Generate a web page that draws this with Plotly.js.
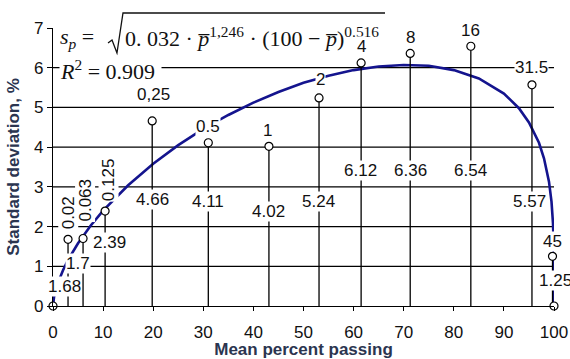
<!DOCTYPE html>
<html>
<head>
<meta charset="utf-8">
<script src="https://cdn.plot.ly/plotly-3.0.1.min.js"></script>
<style>
  html, body { margin: 0; padding: 0; background: #fff; }
  #chart { width: 570px; height: 359px; }
</style>
</head>
<body>
<div id="chart"></div>
<script>
// sieve size (mm) per point, mean percent passing, standard deviation
const sieveLabels = ['0.02', '0.063', '0.125', '0,25', '0.5', '1', '2', '4', '8', '16', '31.5', '45'];
const meanPassing = [3.0, 6.0, 10.4, 19.8, 31.0, 43.1, 53.1, 61.5, 71.3, 83.4, 95.6, 99.7];
const stdDev      = [1.68, 1.70, 2.39, 4.66, 4.11, 4.02, 5.24, 6.12, 6.36, 6.54, 5.57, 1.25];
const valueLabels = ['1.68', '1.7', '2.39', '4.66', '4.11', '4.02', '5.24', '6.12', '6.36', '6.54', '5.57', '1.25'];

// end points of the fitted curve
const endP  = [0, 100];
const endSD = [0, 0];

// fitted curve
const fitP  = [0, 0.2, 0.5, 1, 2, 3, 5, 7.5, 10, 15, 20, 25, 30, 35, 40, 45, 50, 55, 60, 65, 70, 75, 80, 85, 90, 93, 95, 97, 98, 99, 99.5, 99.8, 99.95, 100];
const fitSD = [0, 0.22, 0.38, 0.59, 0.90, 1.16, 1.58, 2.02, 2.40, 3.04, 3.58, 4.05, 4.46, 4.81, 5.12, 5.39, 5.62, 5.80, 5.94, 6.03, 6.07, 6.05, 5.94, 5.73, 5.35, 4.98, 4.62, 4.11, 3.72, 3.13, 2.63, 2.08, 1.46, 0];

const xTicks = [0, 10, 20, 30, 40, 50, 60, 70, 80, 90, 100];
const yTicks = [0, 1, 2, 3, 4, 5, 6, 7];
const gridY  = [1, 2, 3, 4, 5, 6];

// label placement (pixel shifts / heights), kept apart from the data
const sieveShift = [[0, 26], [2, 38], [3, 31], [1, 26], [0, 16], [-1, 16], [1, 18], [0, 16], [0, 16], [0, 16], [0, 17], [0, 15]];
const valueLabelY = [0.48, 1.08, 1.61, 2.69, 2.62, 2.37, 2.64, 3.42, 3.42, 3.42, 2.64, 0.65];
const valueShiftX = [-4, -5, 4, 0, 0, 0, -1, -1, 0, 0, -2, 3];

const SANS = '"Liberation Sans", Arial, sans-serif';
const SERIF = '"Liberation Serif", "Times New Roman", serif';
const lblFont = { family: SANS, size: 17, color: '#111' };
const titleColor = '#2b3550';

const traces = [
  { type: 'scatter', mode: 'lines', x: fitP, y: fitSD, cliponaxis: false,
    line: { color: '#14148e', width: 2.6 }, hoverinfo: 'skip', showlegend: false },
  { type: 'scatter', mode: 'markers', x: meanPassing, y: stdDev, cliponaxis: false,
    marker: { symbol: 'circle', size: 8, color: '#fff', line: { color: '#000', width: 1.2 } },
    error_y: { type: 'data', symmetric: false, array: meanPassing.map(() => 0), arrayminus: stdDev,
               width: 0, thickness: 1.3, color: '#000' },
    showlegend: false },
  { type: 'scatter', mode: 'markers', x: endP, y: endSD, cliponaxis: false,
    marker: { symbol: 'circle', size: 8, color: '#fff', line: { color: '#000', width: 1.2 } },
    showlegend: false }
];

// regression equation first, so point labels sit on top of it
const eqFont = { family: SERIF, size: 22, color: '#111' };
const annotations = [
  { xref: 'paper', yref: 'paper', x: 0.012, y: 0.964, xanchor: 'left', yanchor: 'middle', showarrow: false,
    text: '<i>s<sub>p</sub></i> = ', font: eqFont, bgcolor: '#fff', borderpad: 0 },
  { xref: 'paper', yref: 'paper', x: 0.142, y: 0.966, xanchor: 'left', yanchor: 'middle', showarrow: false,
    text: '0. 032 · <i>p\u0305</i><sup>1,246</sup> · (100 − <i>p\u0305</i>)<sup>0.516</sup>',
    font: eqFont, bgcolor: '#fff', borderpad: 0 },
  { xref: 'paper', yref: 'paper', x: 0.012, y: 0.849, xanchor: 'left', yanchor: 'middle', showarrow: false,
    text: '<i>R</i><sup>2</sup> = 0.909\u00a0', font: eqFont, bgcolor: '#fff', borderpad: 0 }
];
sieveLabels.forEach((s, i) => {
  const rot = i < 3;
  annotations.push({ x: meanPassing[i], y: stdDev[i], xref: 'x', yref: 'y', text: s, showarrow: false,
    xshift: sieveShift[i][0], yshift: sieveShift[i][1], textangle: rot ? -90 : 0,
    font: lblFont, bgcolor: '#fff', borderpad: 0 });
});
valueLabels.forEach((s, i) => {
  annotations.push({ x: meanPassing[i], y: valueLabelY[i], xref: 'x', yref: 'y', text: s, showarrow: false,
    xshift: valueShiftX[i], font: lblFont, bgcolor: '#fff', borderpad: 0 });
});

const shapes = gridY.map(v => ({ type: 'line', xref: 'paper', yref: 'y', x0: 0, x1: 1, y0: v, y1: v,
  line: { color: '#000', width: 1.2 }, layer: 'below' }));
// radical sign of the equation
shapes.push({ type: 'path', xref: 'paper', yref: 'paper', layer: 'above',
  path: 'M 0.1098 0.9460 L 0.1178 0.9568 L 0.1277 0.9101 L 0.1397 1.0540 L 0.6627 1.0540',
  line: { color: '#111', width: 1.3 } });

const layout = {
  width: 570, height: 359,
  margin: { l: 53, r: 16, t: 28, b: 53 },
  paper_bgcolor: '#fff', plot_bgcolor: '#fff',
  showlegend: false,
  font: { family: SANS, size: 17, color: '#111' },
  xaxis: {
    range: [0, 100], tickvals: xTicks, ticks: 'outside', ticklen: 4, tickwidth: 1, tickcolor: '#000',
    ticklabelstandoff: 6,
    showline: true, linecolor: '#000', linewidth: 1.2, showgrid: false, zeroline: false,
    tickfont: { family: SANS, size: 17, color: '#111' },
    title: { text: 'Mean percent passing', font: { family: SANS, size: 17, color: titleColor, weight: 'bold' }, standoff: 2 }
  },
  yaxis: {
    range: [0, 7], tickvals: yTicks, ticks: 'outside', ticklen: 5, tickwidth: 1, tickcolor: '#000',
    showline: true, linecolor: '#000', linewidth: 1.2, showgrid: false, zeroline: false,
    tickfont: { family: SANS, size: 17, color: '#111' },
    title: { text: 'Standard deviation, %', font: { family: SANS, size: 17, color: titleColor, weight: 'bold' }, standoff: 10 }
  },
  annotations: annotations,
  shapes: shapes
};

Plotly.newPlot('chart', traces, layout, { displayModeBar: false, staticPlot: true });
</script>
</body>
</html>
